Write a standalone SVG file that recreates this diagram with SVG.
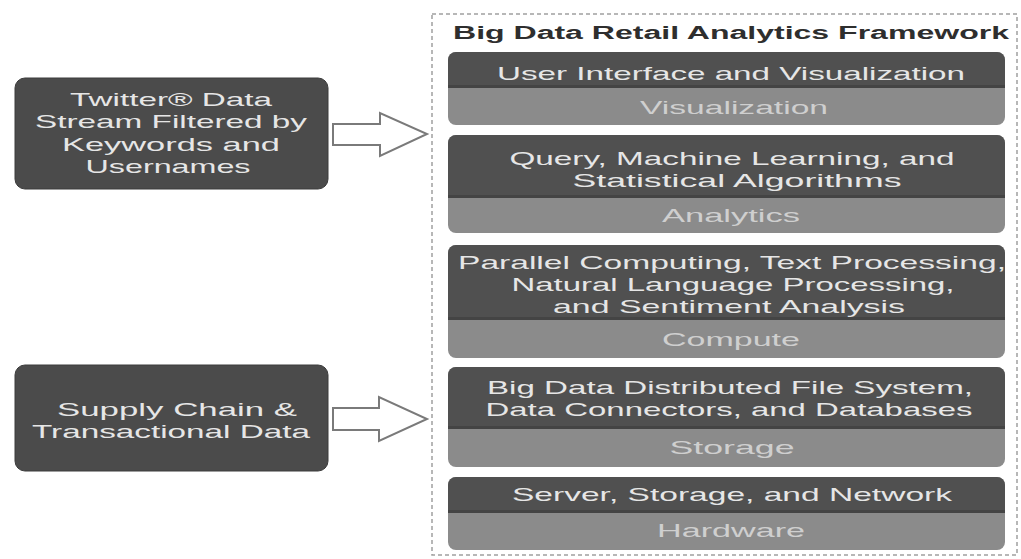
<svg xmlns="http://www.w3.org/2000/svg" width="1021" height="559" viewBox="0 0 1021 559">
<style>
  .src { fill: #4b4b4b; stroke: #3c3c3c; stroke-width: 1; }
  .dark { fill: #505050; }
  .light { fill: #8b8b8b; }
  .sep { fill: #444444; }
  .t { font-family: "Liberation Sans", Arial, sans-serif; font-size: 19px; fill: #e6e6e6; text-anchor: middle; }
  .tl { font-family: "Liberation Sans", Arial, sans-serif; font-size: 19px; fill: #cfcfcf; text-anchor: middle; }
  .title { font-family: "Liberation Sans", Arial, sans-serif; font-size: 18px; font-weight: bold; fill: #2e2e2e; text-anchor: middle; }
  .arrow { fill: #ffffff; stroke: #7a7a7a; stroke-width: 2; stroke-linejoin: miter; }
  .frame { fill: none; stroke: #a0a0a0; stroke-width: 1.5; stroke-dasharray: 4 3; }
</style>
<rect width="1021" height="559" fill="#ffffff"/>

<g id="framework">
  <rect class="frame" x="432" y="14" width="585" height="541"/>
  <text class="title" x="731" y="39" textLength="556" lengthAdjust="spacingAndGlyphs">Big Data Retail Analytics Framework</text>
</g>

<g id="source-twitter">
  <rect class="src" x="15" y="78" width="313" height="111" rx="10"/>
  <text class="t" x="171" y="106" textLength="202" lengthAdjust="spacingAndGlyphs">Twitter® Data</text>
  <text class="t" x="171" y="128" textLength="272" lengthAdjust="spacingAndGlyphs">Stream Filtered by</text>
  <text class="t" x="171" y="151" textLength="218" lengthAdjust="spacingAndGlyphs">Keywords and</text>
  <text class="t" x="168" y="173" textLength="165" lengthAdjust="spacingAndGlyphs">Usernames</text>
</g>

<g id="source-supply">
  <rect class="src" x="15" y="365" width="313" height="106" rx="10"/>
  <text class="t" x="177" y="416" textLength="240" lengthAdjust="spacingAndGlyphs">Supply Chain &amp;</text>
  <text class="t" x="171" y="438" textLength="278" lengthAdjust="spacingAndGlyphs">Transactional Data</text>
</g>

<g id="connectors">
  <polygon class="arrow" points="333,124 380,124 380,113 427,134 380,156 380,145 333,145"/>
  <polygon class="arrow" points="333,408 379,408 379,397 427,419 379,441 379,430 333,430"/>
</g>

<g id="layer-visualization">
  <rect class="light" x="448" y="52" width="557" height="73" rx="8"/>
  <path class="dark" d="M448,88 V60 A8,8 0 0 1 456,52 H997 A8,8 0 0 1 1005,60 V88 Z"/>
  <rect class="sep" x="448" y="85" width="557" height="3"/>
  <text class="t" x="731" y="80" textLength="468" lengthAdjust="spacingAndGlyphs">User Interface and Visualization</text>
  <text class="tl" x="734" y="114" textLength="188" lengthAdjust="spacingAndGlyphs">Visualization</text>
</g>

<g id="layer-analytics">
  <rect class="light" x="448" y="135" width="557" height="98" rx="8"/>
  <path class="dark" d="M448,198 V143 A8,8 0 0 1 456,135 H997 A8,8 0 0 1 1005,143 V198 Z"/>
  <rect class="sep" x="448" y="195" width="557" height="3"/>
  <text class="t" x="732" y="165" textLength="445" lengthAdjust="spacingAndGlyphs">Query, Machine Learning, and</text>
  <text class="t" x="737" y="187" textLength="329" lengthAdjust="spacingAndGlyphs">Statistical Algorithms</text>
  <text class="tl" x="731" y="222" textLength="138" lengthAdjust="spacingAndGlyphs">Analytics</text>
</g>

<g id="layer-compute">
  <rect class="light" x="448" y="245" width="557" height="113" rx="8"/>
  <path class="dark" d="M448,320 V253 A8,8 0 0 1 456,245 H997 A8,8 0 0 1 1005,253 V320 Z"/>
  <rect class="sep" x="448" y="317" width="557" height="3"/>
  <text class="t" x="732" y="269" textLength="548" lengthAdjust="spacingAndGlyphs">Parallel Computing, Text Processing,</text>
  <text class="t" x="733" y="291" textLength="443" lengthAdjust="spacingAndGlyphs">Natural Language Processing,</text>
  <text class="t" x="729" y="313" textLength="352" lengthAdjust="spacingAndGlyphs">and Sentiment Analysis</text>
  <text class="tl" x="731" y="346" textLength="138" lengthAdjust="spacingAndGlyphs">Compute</text>
</g>

<g id="layer-storage">
  <rect class="light" x="448" y="367" width="557" height="100" rx="8"/>
  <path class="dark" d="M448,429 V375 A8,8 0 0 1 456,367 H997 A8,8 0 0 1 1005,375 V429 Z"/>
  <rect class="sep" x="448" y="426" width="557" height="3"/>
  <text class="t" x="730" y="394" textLength="486" lengthAdjust="spacingAndGlyphs">Big Data Distributed File System,</text>
  <text class="t" x="729" y="416" textLength="487" lengthAdjust="spacingAndGlyphs">Data Connectors, and Databases</text>
  <text class="tl" x="732" y="454" textLength="125" lengthAdjust="spacingAndGlyphs">Storage</text>
</g>

<g id="layer-hardware">
  <rect class="light" x="448" y="477" width="557" height="73" rx="8"/>
  <path class="dark" d="M448,513 V485 A8,8 0 0 1 456,477 H997 A8,8 0 0 1 1005,485 V513 Z"/>
  <rect class="sep" x="448" y="510" width="557" height="3"/>
  <text class="t" x="732" y="501" textLength="440" lengthAdjust="spacingAndGlyphs">Server, Storage, and Network</text>
  <text class="tl" x="731" y="537" textLength="148" lengthAdjust="spacingAndGlyphs">Hardware</text>
</g>
</svg>
